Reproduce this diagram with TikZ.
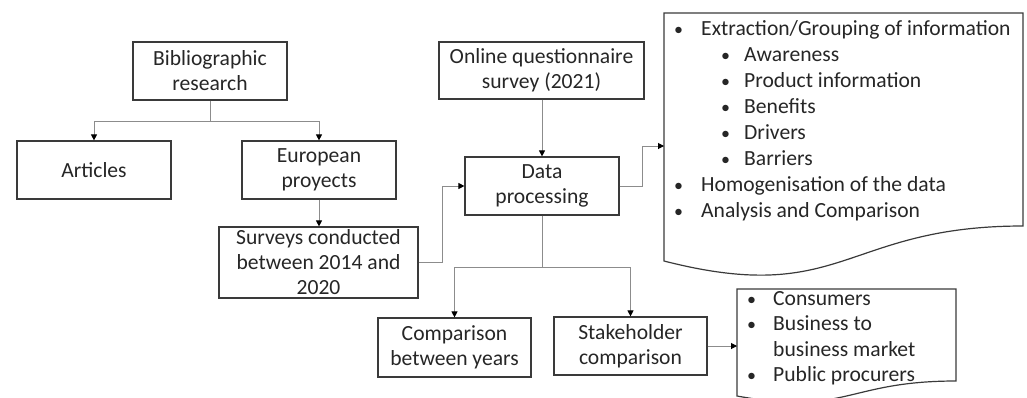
\documentclass[tikz,border=0pt]{standalone}
\usepackage{fontspec}
\setmainfont{Carlito}
\usetikzlibrary{arrows.meta}
\definecolor{boxline}{HTML}{3A3A3A}
\definecolor{connline}{HTML}{8C8C8C}
\definecolor{txt}{HTML}{262626}
\newcommand{\blt}{{\fontsize{18}{18}\selectfont •}}
\begin{document}
\begin{tikzpicture}[x=1pt,y=-1pt,
  box/.style={draw=boxline,line width=1.2pt,align=center,inner sep=0pt,text=txt,
    font=\fontsize{21.6}{25}\selectfont},
  conn/.style={draw=connline,line width=1pt,-{Triangle[width=6pt,length=6pt,color=black]}},
  plain/.style={draw=connline,line width=1pt},
  doc/.style={draw=boxline,line width=1.2pt},
  listtxt/.style={anchor=base west,inner sep=0pt,text=txt,font=\fontsize{21.6}{25}\selectfont}]
\useasboundingbox (0,0) rectangle (1027,397);
% boxes
\node[box,minimum width=154pt,minimum height=58pt] (bib) at (210,71) {Bibliographic\\research};
\node[box,minimum width=154pt,minimum height=58pt] (art) at (94,170) {Articles};
\node[box,minimum width=154pt,minimum height=58pt] (eur) at (319,170) {European\\proyects};
\node[box,minimum width=199pt,minimum height=71pt] (surv) at (318.5,262.5) {Surveys conducted\\between 2014 and\\2020};
\node[box,minimum width=205pt,minimum height=57pt] (onl) at (541.5,70.5) {Online questionnaire\\survey (2021)};
\node[box,minimum width=154pt,minimum height=58pt] (data) at (542,186) {Data\\processing};
\node[box,minimum width=153pt,minimum height=59pt] (comp) at (454.5,347.5) {Comparison\\between years};
\node[box,minimum width=153pt,minimum height=58pt] (stake) at (630.5,346) {Stakeholder\\comparison};
% document shapes
\draw[doc] (664,13) -- (1023,13) -- (1023,226) .. controls (843.5,226) and (843.5,307) .. (664,261) -- cycle;
\draw[doc] (737,289) -- (956,289) -- (956,381) .. controls (846.5,381) and (846.5,416) .. (737,396) -- cycle;
% list texts
\node[listtxt] (l1) at (674,35) {\makebox[27pt][l]{\blt}Extraction/Grouping of information};
\node[listtxt] (l2) at (721,61) {\makebox[23pt][l]{\blt}Awareness};
\node[listtxt] (l3) at (721,87) {\makebox[23pt][l]{\blt}Product information};
\node[listtxt] (l4) at (721,113) {\makebox[23pt][l]{\blt}Benefits};
\node[listtxt] (l5) at (721,139) {\makebox[23pt][l]{\blt}Drivers};
\node[listtxt] (l6) at (721,165) {\makebox[23pt][l]{\blt}Barriers};
\node[listtxt] (l7) at (674,191) {\makebox[27pt][l]{\blt}Homogenisation of the data};
\node[listtxt] (l8) at (674,217) {\makebox[27pt][l]{\blt}Analysis and Comparison};
\node[listtxt] (m1) at (747,305) {\makebox[26pt][l]{\blt}Consumers};
\node[listtxt] (m2) at (747,330.5) {\makebox[26pt][l]{\blt}Business to};
\node[listtxt] (m3) at (773,356) {business market};
\node[listtxt] (m4) at (747,381.5) {\makebox[26pt][l]{\blt}Public procurers};
% coordinates
\coordinate (b1) at (210,121);
\coordinate (s1) at (442,186);
\coordinate (d1) at (642,146);
\coordinate (docin) at (664,146);
\coordinate (p1) at (542,267);
\coordinate (listin) at (737,346);
% connectors
\draw[plain] (bib.south) -- (b1);
\draw[conn] (b1) -| (art.north);
\draw[conn] (b1) -| (eur.north);
\draw[conn] (eur.south) -- (eur.south |- surv.north);
\draw[conn] (surv.east) -| (s1) -- (data.west);
\draw[conn] (onl.south -| data.north) -- (data.north);
\draw[conn] (data.east) -| (d1) -- (docin);
\draw[plain] (data.south) -- (p1);
\draw[conn] (p1) -| (comp.north);
\draw[conn] (p1) -| (stake.north);
\draw[conn] (stake.east) -- (listin);
\end{tikzpicture}
\end{document}
